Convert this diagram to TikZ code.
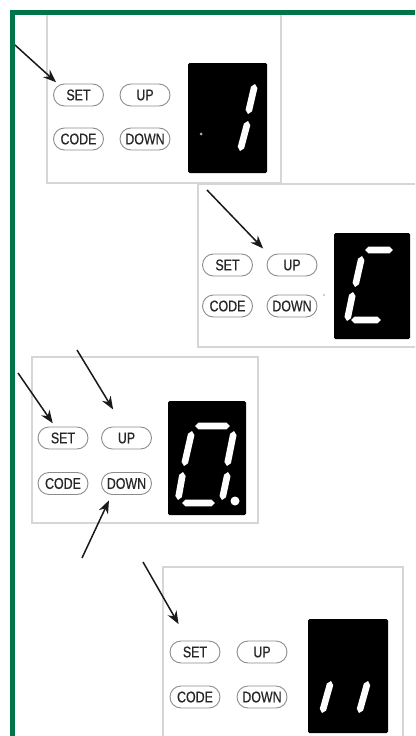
\documentclass[tikz,border=0pt]{standalone}
\usepackage{fontspec}
\newfontfamily\keyfont[FakeStretch=0.8, FakeBold=0.6]{Liberation Sans}
\usetikzlibrary{arrows.meta, calc}
\definecolor{framegreen}{RGB}{0,118,72}
\definecolor{panelgray}{RGB}{214,214,214}
\definecolor{keygray}{RGB}{140,140,140}

\tikzset{
    keybtn/.style={draw=keygray, line width=0.9pt, rounded corners=11pt, minimum width=50pt, minimum height=22pt, inner sep=0pt, text=black!85, font=\keyfont\fontsize{15.5}{15.5}\selectfont},
    panel/.style={draw=panelgray, line width=1.6pt},
    ledbox/.style={fill=black, rounded corners=1.5pt},
    pointer/.style={->, line width=1.5pt, black!90},
}
% one lit segment of a seven segment display
\newcommand{\ledseg}[2]{%
    \fill[white] (#1) -- ($(#1)!3.5pt!(#2)!3.3pt!90:(#2)$) -- ($(#2)!3.5pt!(#1)!3.3pt!-90:(#1)$) -- (#2)
        -- ($(#2)!3.5pt!(#1)!3.3pt!90:(#1)$) -- ($(#1)!3.5pt!(#2)!3.3pt!-90:(#2)$) -- cycle;}

\begin{document}
\begin{tikzpicture}[x=1pt, y=-1pt, >={Stealth[length=13pt, width=10pt]}]
\useasboundingbox (0,0) rectangle (415,736);
\clip (0,0) rectangle (415,736);

% panels
\draw[panel] (47,12.5) rectangle (281,183);
\draw[panel] (198,184) rectangle (425,347);
\draw[panel] (32,357) rectangle (258,523);
\draw[panel] (163,567) rectangle (403,745);

% keys
\foreach \p/\x/\y/\dx/\dy in {1/78.5/95/66.5/44, 2/227.5/265/64.5/41, 3/63/438/63.5/45.5, 4/195/652/67/45}
{
    \node[keybtn] (set\p) at (\x,\y) {SET};
    \node[keybtn] (up\p) at (\x+\dx,\y) {UP};
    \node[keybtn] (code\p) at (\x,\y+\dy) {CODE};
    \node[keybtn] (down\p) at (\x+\dx,\y+\dy) {DOWN};
}

% displays
\fill[ledbox] (188,63) rectangle (267,173);
\fill[ledbox] (334,233) rectangle (410,339);
\fill[ledbox] (168,401) rectangle (246,515);
\fill[ledbox] (308,619) rectangle (388,733);

% 1
\ledseg{255,84}{248,114}
\ledseg{248,121}{240,151}
\fill[gray!60] (201,134) circle (1.5);
% C
\ledseg{365,250}{393,250}
\ledseg{362,256}{355,287}
\ledseg{353,292}{347,321}
\ledseg{351,320}{381,320}
\fill[gray!50] (324,295) circle (1.2);
% 0.
\ledseg{195,426}{230,426}
\ledseg{192,431}{184,466}
\ledseg{234,431}{227,466}
\ledseg{183,472}{178,500}
\ledseg{228,472}{222,500}
\ledseg{182,503}{215,503}
\fill[white] (235,501) circle (4.5);
% two bars
\ledseg{331,681}{322,713}
\ledseg{368,681}{359,713}

% pointers
\coordinate (p1) at (15,45);
\coordinate (p2) at (207,190);
\coordinate (p3) at (18,373);
\coordinate (p4) at (77,350);
\coordinate (p5) at (82,558);
\coordinate (p6) at (143,562);
\draw[pointer, shorten >=2pt] (p1) -- ([xshift=-21pt]set1.north);
\draw[pointer, shorten >=7pt] (p2) -- ([xshift=-24pt]up2.north);
\draw[pointer, shorten >=4pt] (p3) -- ([xshift=-8pt]set3.north);
\draw[pointer, shorten >=20pt] (p4) -- ([xshift=-3pt]up3.north);
\draw[pointer, shorten >=6pt] (p5) -- ([xshift=-15pt]down3.south);
\draw[pointer, shorten >=19pt] (p6) -- ([xshift=-7pt]set4.north);

% frame
\draw[framegreen, line width=5pt] (12.5,745) -- (12.5,12.5) -- (425,12.5);
\end{tikzpicture}
\end{document}
